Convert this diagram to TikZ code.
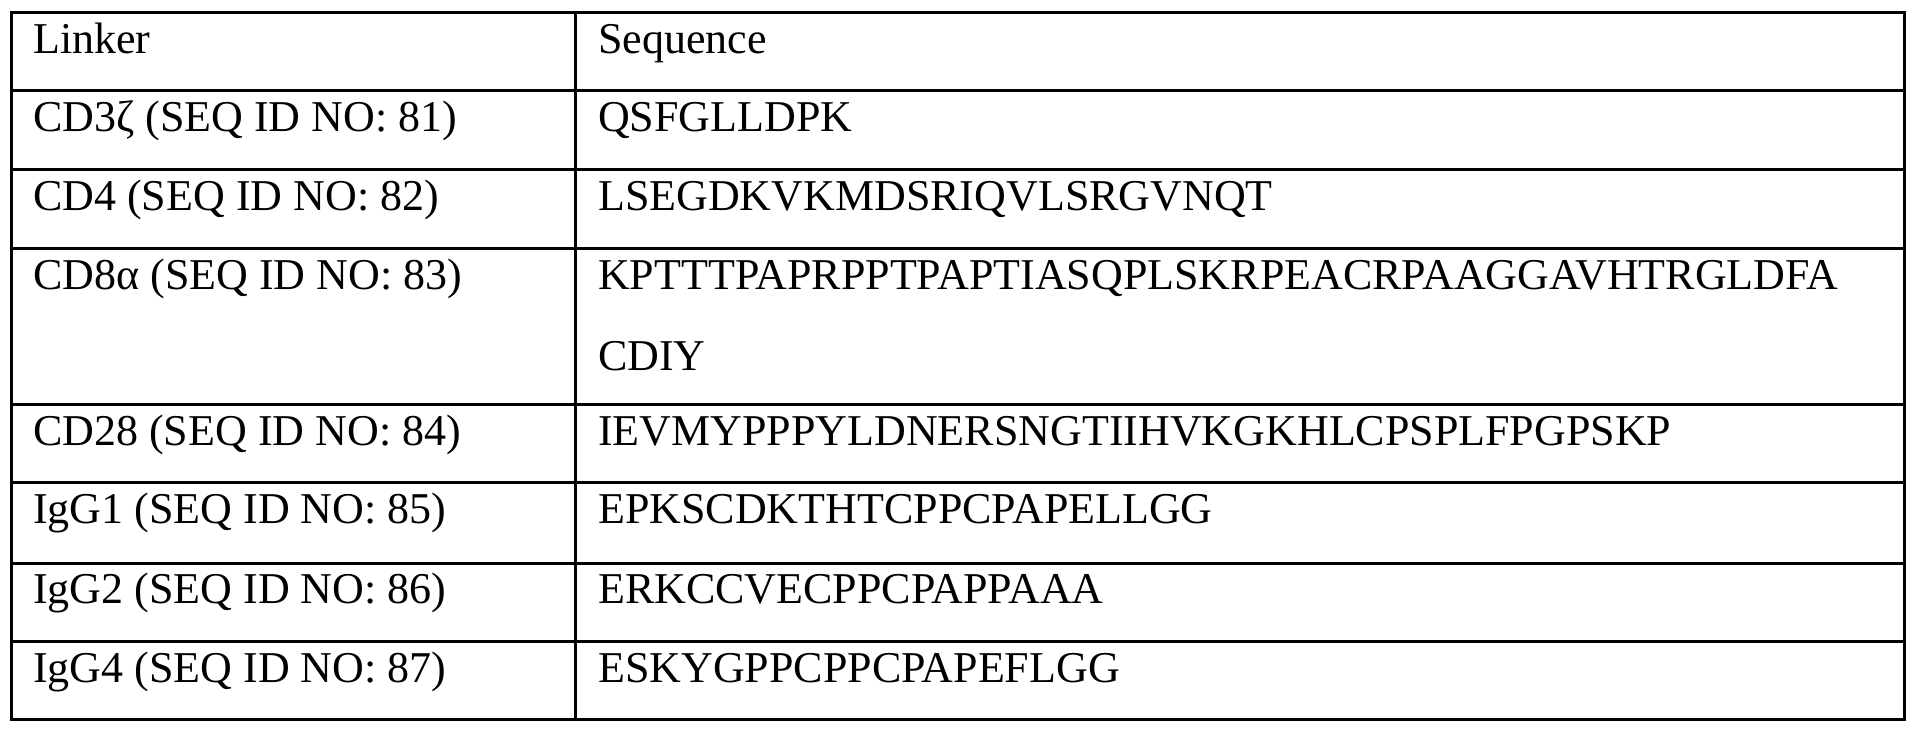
\documentclass[tikz,border=0pt]{standalone}
\usepackage{fontspec}
\setmainfont{Liberation Serif}
\begin{document}
\begin{tikzpicture}[x=1pt,y=-1pt,
  grid/.style={line width=3pt},
  cell/.style={anchor=base west,inner sep=0pt,font=\fontsize{44}{48}\selectfont}]
\useasboundingbox (0,0) rectangle (1917,732);
\draw[grid] (11,12) rectangle (1904,719);
\draw[grid] (575,12) -- (575,719);
\foreach \y in {90,169,248,404,482,563,641} \draw[grid] (11,\y) -- (1904,\y);
\node[cell] (h1) at (33,53) {Linker};
\node[cell] (h2) at (598,53) {Sequence};
\node[cell] (a1) at (33,131) {CD3ζ (SEQ ID NO: 81)};
\node[cell] (b1) at (598,131) {QSFGLLDPK};
\node[cell] (a2) at (33,210) {CD4 (SEQ ID NO: 82)};
\node[cell] (b2) at (598,210) {LSEGDKVKMDSRIQVLSRGVNQT};
\node[cell] (a3) at (33,289) {CD8α (SEQ ID NO: 83)};
\node[cell] (b3) at (598,289) {KPTTTPAPRPPTPAPTIASQPLSKRPEACRPAAGGAVHTRGLDFA};
\node[cell] (b3b) at (598,370) {CDIY};
\node[cell] (a4) at (33,445) {CD28 (SEQ ID NO: 84)};
\node[cell] (b4) at (598,445) {IEVMYPPPYLDNERSNGTIIHVKGKHLCPSPLFPGPSKP};
\node[cell] (a5) at (33,523) {IgG1 (SEQ ID NO: 85)};
\node[cell] (b5) at (598,523) {EPKSCDKTHTCPPCPAPELLGG};
\node[cell] (a6) at (33,603) {IgG2 (SEQ ID NO: 86)};
\node[cell] (b6) at (598,603) {ERKCCVECPPCPAPPAAA};
\node[cell] (a7) at (33,682) {IgG4 (SEQ ID NO: 87)};
\node[cell] (b7) at (598,682) {ESKYGPPCPPCPAPEFLGG};
\end{tikzpicture}
\end{document}
